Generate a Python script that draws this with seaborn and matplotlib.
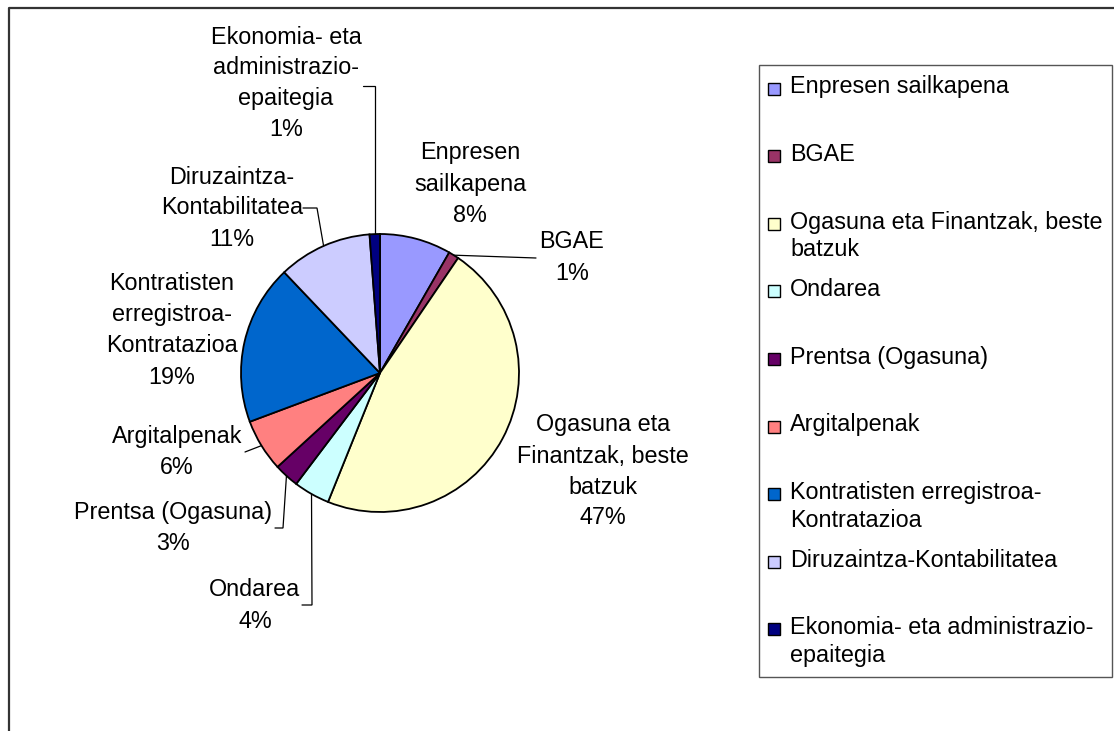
import numpy as np
import matplotlib
matplotlib.use("Agg")
import matplotlib.pyplot as plt
from matplotlib.patches import Rectangle
import seaborn as sns

# ---------------- data ----------------
categories = ["Enpresen sailkapena", "BGAE", "Ogasuna eta Finantzak, beste batzuk",
              "Ondarea", "Prentsa (Ogasuna)", "Argitalpenak",
              "Kontratisten erregistroa-Kontratazioa", "Diruzaintza-Kontabilitatea",
              "Ekonomia- eta administrazio-epaitegia"]
shares = [8.3, 1.2, 46.6, 4.2, 2.9, 6.1, 18.6, 10.9, 1.2]
colors = ["#9999FF", "#993366", "#FFFFCC", "#CCFFFF", "#660066",
          "#FF8080", "#0066CC", "#CCCCFF", "#000080"]

# wrapped label lines (as shown in the chart)
pie_label_lines = [["Enpresen", "sailkapena"], ["BGAE"], ["Ogasuna eta", "Finantzak, beste", "batzuk"],
                   ["Ondarea"], ["Prentsa (Ogasuna)"], ["Argitalpenak"],
                   ["Kontratisten", "erregistroa-", "Kontratazioa"], ["Diruzaintza-", "Kontabilitatea"],
                   ["Ekonomia- eta", "administrazio-", "epaitegia"]]
legend_lines = [["Enpresen sailkapena"], ["BGAE"], ["Ogasuna eta Finantzak, beste", "batzuk"],
                ["Ondarea"], ["Prentsa (Ogasuna)"], ["Argitalpenak"],
                ["Kontratisten erregistroa-", "Kontratazioa"], ["Diruzaintza-Kontabilitatea"],
                ["Ekonomia- eta administrazio-", "epaitegia"]]

# ---------------- layout (pixel coordinates, y from top) ----------------
W, H = 1114, 731
pie_cx, pie_cy, pie_r = 380, 373, 139
label_pos = [(470, 153), (572, 242), (603, 425), (255, 590), (173, 513),
             (177, 437), (172, 284), (232, 177), (286, 37)]
label_dy = 31
# leader polylines: points before pie point / after pie point
leaders = {
    8: ("to_pie", [(363, 86), ("px", 86)]),
    7: ("to_pie", [(303, 208), (317, 208)]),
    1: ("from_pie", [(536, 258)]),
    5: ("to_pie", [(245, 452)]),
    4: ("from_pie", [(283, 528), (275, 528)]),
    3: ("from_pie", [(312, 605), (302, 605)]),
}

sns.set_style("white")
plt.rcParams['font.family'] = ['Liberation Sans', 'DejaVu Sans']
FS = 16.8

fig = plt.figure(figsize=(W / 100, H / 100), dpi=100)
ax = fig.add_axes([0, 0, 1, 1])

def Y(y):
    return H - y

palette = sns.color_palette(colors)
wedges, _ = ax.pie(shares, colors=palette, startangle=90, counterclock=False,
                   center=(pie_cx, Y(pie_cy)), radius=pie_r,
                   wedgeprops=dict(edgecolor="black", linewidth=1.3))
ax.set_xlim(0, W)
ax.set_ylim(0, H)
ax.set_aspect("equal")
ax.axis("off")

total = sum(shares)
pcts = [f"{int(round(s / total * 100))}%" for s in shares]

# data labels
for i, (lines, (cx, y0)) in enumerate(zip(pie_label_lines, label_pos)):
    for k, t in enumerate(lines + [pcts[i]]):
        ax.text(cx, Y(y0 + k * label_dy), t, ha="center", va="center", fontsize=FS, color="black")

# leader lines
for i, (mode, pts) in leaders.items():
    w = wedges[i]
    mid = np.deg2rad((w.theta1 + w.theta2) / 2)
    px = pie_cx + pie_r * np.cos(mid)
    py = pie_cy - pie_r * np.sin(mid)
    pts = [(px if a == "px" else a, b) for a, b in pts]
    if mode == "to_pie":
        seq = pts + [(px, py)]
    else:
        seq = [(px, py)] + pts
    ax.plot([p[0] for p in seq], [Y(p[1]) for p in seq], color="black", lw=0.9,
            solid_joinstyle="miter")

# chart border (extends beyond the picture to the right and bottom)
ax.plot([8.5, 8.5, W + 5], [Y(H + 5), Y(7.5), Y(7.5)], color="#333333", lw=1.6, clip_on=False)

# legend
ax.add_patch(Rectangle((759, Y(677)), 1112 - 759, 677 - 65, facecolor="white",
                       edgecolor="#555555", lw=1.0))
for i, lines in enumerate(legend_lines):
    y0 = 87 + i * 67.6
    ax.add_patch(Rectangle((768, Y(y0 + 7.5)), 12, 12, facecolor=palette[i],
                           edgecolor="black", lw=1.0))
    for k, t in enumerate(lines):
        ax.text(790, Y(y0 + k * 27.5), t, ha="left", va="center", fontsize=FS, color="black")

fig.savefig("out.png", dpi=100)
